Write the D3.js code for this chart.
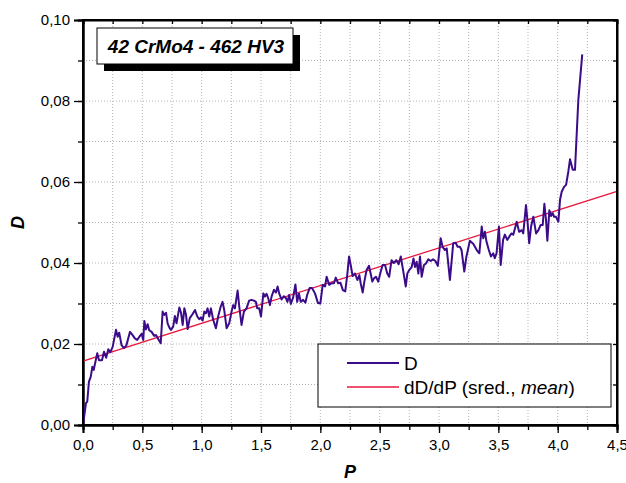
<!DOCTYPE html>
<html>
<head>
<meta charset="utf-8">
<script src="https://cdn.jsdelivr.net/npm/d3@7"></script>
<style>
  body { margin: 0; background: #fff; }
  svg { display: block; font-family: "Liberation Sans", Arial, sans-serif; }
</style>
</head>
<body>
<svg width="626" height="483"></svg>
<script>
// measured curve D(P)
const pVals = [0, 0.025, 0.036, 0.05, 0.065, 0.079, 0.09, 0.12, 0.135, 0.16, 0.177, 0.195, 0.213, 0.23, 0.25,
  0.278, 0.292, 0.305, 0.325, 0.345, 0.365, 0.396, 0.418, 0.437, 0.457, 0.48, 0.494, 0.508, 0.517, 0.53,
  0.545, 0.558, 0.578, 0.6, 0.615, 0.635, 0.655, 0.671, 0.685, 0.7, 0.713, 0.727, 0.741, 0.76, 0.774,
  0.788, 0.812, 0.826, 0.84, 0.854, 0.868, 0.882, 0.9, 0.924, 0.944, 0.963, 0.98, 0.994, 1.008, 1.022,
  1.036, 1.05, 1.064, 1.078, 1.097, 1.12, 1.14, 1.16, 1.176, 1.19, 1.21, 1.232, 1.252, 1.266, 1.28,
  1.303, 1.317, 1.336, 1.356, 1.378, 1.4, 1.42, 1.44, 1.457, 1.468, 1.485, 1.5, 1.52, 1.533, 1.547,
  1.561, 1.575, 1.589, 1.609, 1.626, 1.64, 1.653, 1.673, 1.693, 1.71, 1.723, 1.737, 1.751, 1.771, 1.79,
  1.805, 1.82, 1.835, 1.855, 1.874, 1.889, 1.91, 1.93, 1.955, 1.98, 2.0, 2.02, 2.04, 2.053, 2.075,
  2.095, 2.115, 2.13, 2.15, 2.17, 2.19, 2.21, 2.228, 2.242, 2.256, 2.272, 2.292, 2.312, 2.329, 2.34,
  2.357, 2.371, 2.39, 2.41, 2.424, 2.438, 2.452, 2.469, 2.488, 2.508, 2.525, 2.545, 2.564, 2.58, 2.6,
  2.62, 2.64, 2.66, 2.678, 2.697, 2.72, 2.733, 2.75, 2.77, 2.785, 2.798, 2.812, 2.826, 2.84, 2.854,
  2.873, 2.89, 2.91, 2.93, 2.95, 2.97, 2.99, 3.014, 3.03, 3.05, 3.065, 3.092, 3.12, 3.14, 3.157,
  3.176, 3.19, 3.213, 3.23, 3.26, 3.29, 3.318, 3.34, 3.36, 3.373, 3.387, 3.4, 3.42, 3.438, 3.457,
  3.47, 3.485, 3.505, 3.52, 3.54, 3.555, 3.575, 3.592, 3.61, 3.626, 3.655, 3.675, 3.697, 3.71, 3.733,
  3.745, 3.76, 3.776, 3.795, 3.818, 3.838, 3.857, 3.874, 3.888, 3.902, 3.913, 3.93, 3.944, 3.958, 3.97,
  3.986, 4.006, 4.02, 4.034, 4.054, 4.071, 4.09, 4.104, 4.127, 4.146, 4.174, 4.207];
const dVals = [0, 0.0054, 0.0058, 0.0107, 0.0119, 0.0144, 0.0136, 0.0177, 0.016, 0.016, 0.0181, 0.0166, 0.0187, 0.018, 0.0193,
  0.0235, 0.0218, 0.0228, 0.0197, 0.019, 0.0196, 0.023, 0.0222, 0.0214, 0.021, 0.022, 0.0225, 0.021, 0.0257, 0.0236,
  0.0249, 0.0234, 0.023, 0.022, 0.0222, 0.0212, 0.0202, 0.028, 0.0272, 0.0277, 0.0251, 0.0241, 0.0235, 0.0243, 0.0269,
  0.0251, 0.029, 0.0277, 0.0247, 0.0288, 0.0272, 0.0237, 0.0264, 0.0274, 0.0284, 0.0268, 0.0261, 0.0266, 0.0258, 0.028,
  0.0276, 0.0288, 0.0268, 0.0288, 0.026, 0.0239, 0.0269, 0.0292, 0.0304, 0.0284, 0.0239, 0.0251, 0.028, 0.0296, 0.0288,
  0.0332, 0.0292, 0.0247, 0.028, 0.0288, 0.0307, 0.0309, 0.0307, 0.0304, 0.0288, 0.0288, 0.0268, 0.0325, 0.0317, 0.0324,
  0.0313, 0.0296, 0.0317, 0.0334, 0.0327, 0.0342, 0.0325, 0.031, 0.0318, 0.0313, 0.0304, 0.0321, 0.0299, 0.0315, 0.0347,
  0.0304, 0.0324, 0.0304, 0.0309, 0.0302, 0.0321, 0.0338, 0.0338, 0.0325, 0.0301, 0.030, 0.0346, 0.0342, 0.0366, 0.0346,
  0.035, 0.035, 0.0364, 0.035, 0.0351, 0.0333, 0.033, 0.0374, 0.0416, 0.0395, 0.0368, 0.0374, 0.0358, 0.037, 0.035,
  0.0327, 0.0354, 0.0383, 0.0393, 0.0374, 0.0354, 0.0362, 0.0366, 0.0354, 0.0378, 0.0395, 0.0395, 0.0374, 0.0366, 0.0407,
  0.04, 0.0407, 0.0397, 0.0416, 0.0383, 0.0342, 0.0374, 0.0383, 0.039, 0.0411, 0.039, 0.0403, 0.0374, 0.0416, 0.0366,
  0.0395, 0.0399, 0.0409, 0.0405, 0.0409, 0.0405, 0.0393, 0.0461, 0.044, 0.0432, 0.0436, 0.0358, 0.0449, 0.045, 0.044,
  0.044, 0.0432, 0.0379, 0.0414, 0.0455, 0.0447, 0.0432, 0.0424, 0.049, 0.0461, 0.0477, 0.0453, 0.0432, 0.0416, 0.0424,
  0.0412, 0.0424, 0.049, 0.0395, 0.0457, 0.047, 0.0457, 0.0465, 0.0473, 0.047, 0.0502, 0.0477, 0.0481, 0.0473, 0.0543,
  0.0506, 0.0449, 0.049, 0.0514, 0.0473, 0.0481, 0.0494, 0.0494, 0.0546, 0.0506, 0.0455, 0.053, 0.0516, 0.0523, 0.0514,
  0.0514, 0.0502, 0.0556, 0.0576, 0.0588, 0.0593, 0.0626, 0.0656, 0.063, 0.063, 0.0802, 0.0915];

// mean slope line dD/dP (end values)
const meanP = [0, 4.5];
const meanD = [0.0158, 0.0577];

const xTicks = [0, 0.5, 1.0, 1.5, 2.0, 2.5, 3.0, 3.5, 4.0, 4.5];
const yTicks = [0, 0.02, 0.04, 0.06, 0.08, 0.10];
const titleText = "42 CrMo4 - 462 HV3";

const svg = d3.select("svg");
const mLeft = 83, mRight = 617, mTop = 20, mBottom = 425;

const x = d3.scaleLinear().domain([0, 4.5]).range([mLeft, mRight]);
const y = d3.scaleLinear().domain([0, 0.1]).range([mBottom, mTop]);
const fmt = d => d3.format(".1f")(d).replace(".", ",");
const fmtY = d => d3.format(".2f")(d).replace(".", ",");

const xMinor = d3.range(0, 4.51, 0.25);
const yMinor = d3.range(0, 0.1001, 0.01);

// grid
const grid = svg.append("g");
grid.selectAll(".gx").data(xMinor.slice(1, -1)).enter().append("line")
  .attr("x1", d => x(d)).attr("x2", d => x(d)).attr("y1", mTop).attr("y2", mBottom)
  .attr("stroke", "#b4b4b4").attr("stroke-dasharray", "1,2");
grid.selectAll(".gy").data(yMinor.slice(1, -1)).enter().append("line")
  .attr("x1", mLeft).attr("x2", mRight).attr("y1", d => y(d)).attr("y2", d => y(d))
  .attr("stroke", "#b4b4b4").attr("stroke-dasharray", "1,2");

// axes
const xAxis = d3.axisBottom(x).tickValues(xTicks).tickFormat(fmt).tickSize(8).tickPadding(6);
const xAxisMinor = d3.axisBottom(x).tickValues(xMinor).tickFormat("").tickSize(5);
const yAxis = d3.axisLeft(y).tickValues(yTicks).tickFormat(fmtY).tickSize(9).tickPadding(4);
const yAxisMinor = d3.axisLeft(y).tickValues(yMinor).tickFormat("").tickSize(5);

svg.append("g").attr("transform", `translate(0,${mBottom})`).call(xAxisMinor);
svg.append("g").attr("transform", `translate(0,${mBottom})`).call(xAxis);
svg.append("g").attr("transform", `translate(${mLeft},0)`).call(yAxisMinor);
svg.append("g").attr("transform", `translate(${mLeft},0)`).call(yAxis);
svg.append("g").attr("transform", `translate(0,${mTop})`)
  .call(d3.axisBottom(x).tickValues(xMinor).tickFormat("").tickSize(4));
svg.append("g").attr("transform", `translate(${mRight},0)`)
  .call(d3.axisLeft(y).tickValues(yMinor).tickFormat("").tickSize(4));

svg.selectAll(".domain").attr("stroke-width", 2).attr("stroke", "#000");
svg.selectAll(".tick line").attr("stroke", "#000").attr("stroke-width", 1.3);
svg.selectAll(".tick text").attr("font-size", 15).attr("fill", "#000")
  .attr("font-family", "'Liberation Sans', Arial, sans-serif");

// data lines
const curve = pVals.map((p, i) => [p, dVals[i]]);
const meanLine = meanP.map((p, i) => [p, meanD[i]]);
const line = d3.line().x(d => x(d[0])).y(d => y(d[1]));

svg.append("path").datum(meanLine).attr("d", line)
  .attr("fill", "none").attr("stroke", "#e8173c").attr("stroke-width", 1.3);
svg.append("path").datum(curve).attr("d", line)
  .attr("fill", "none").attr("stroke", "#3b0b8a").attr("stroke-width", 2)
  .attr("stroke-linejoin", "round");

// frame
svg.append("rect").attr("x", mLeft).attr("y", mTop).attr("width", mRight - mLeft).attr("height", mBottom - mTop)
  .attr("fill", "none").attr("stroke", "#000").attr("stroke-width", 2);

// axis titles
svg.append("text").attr("x", x(2.25)).attr("y", 478).attr("text-anchor", "middle")
  .attr("font-size", 18).attr("font-weight", "bold").attr("font-style", "italic").text("P");
svg.append("text").attr("transform", `translate(24,${y(0.05)}) rotate(-90)`).attr("text-anchor", "middle")
  .attr("font-size", 18).attr("font-weight", "bold").attr("font-style", "italic").text("D");

// title box with shadow
svg.append("rect").attr("x", 104).attr("y", 35).attr("width", 196).attr("height", 36).attr("fill", "#000");
svg.append("rect").attr("x", 97).attr("y", 28).attr("width", 196).attr("height", 36)
  .attr("fill", "#fff").attr("stroke", "#000").attr("stroke-width", 1);
svg.append("text").attr("x", 196).attr("y", 53).attr("text-anchor", "middle")
  .attr("font-size", 19).attr("font-weight", "bold").attr("font-style", "italic").text(titleText);

// legend
const leg = svg.append("g");
leg.append("rect").attr("x", 318).attr("y", 344).attr("width", 293).attr("height", 63)
  .attr("fill", "#fff").attr("stroke", "#000").attr("stroke-width", 1);
leg.append("line").attr("x1", 347).attr("x2", 399).attr("y1", 363).attr("y2", 363)
  .attr("stroke", "#3b0b8a").attr("stroke-width", 2);
leg.append("line").attr("x1", 347).attr("x2", 399).attr("y1", 387).attr("y2", 387)
  .attr("stroke", "#e8173c").attr("stroke-width", 1.3);
leg.append("text").attr("x", 404).attr("y", 370).attr("font-size", 19).text("D");
const t2 = leg.append("text").attr("x", 404).attr("y", 394).attr("font-size", 19);
t2.append("tspan").text("dD/dP (sred., ");
t2.append("tspan").attr("font-style", "italic").text("mean");
t2.append("tspan").text(")");
</script>
</body>
</html>
